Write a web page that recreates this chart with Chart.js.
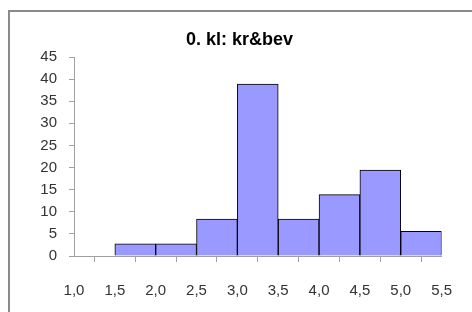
<!DOCTYPE html>
<html>
<head>
<meta charset="utf-8">
<script src="https://cdn.jsdelivr.net/npm/chart.js@4"></script>
<style>
html,body{margin:0;padding:0;background:#fff;}
#wrap{position:relative;width:472px;height:312px;overflow:hidden;}
#frame{position:absolute;left:8px;top:10px;width:500px;height:340px;border-left:2px solid #8a8a8a;border-top:2px solid #8a8a8a;box-sizing:border-box;pointer-events:none;}
canvas{position:absolute;left:0;top:0;}
</style>
</head>
<body>
<div id="wrap">
<canvas id="c" width="472" height="312"></canvas>
<div id="frame"></div>
</div>
<script>
const title = "0. kl: kr&bev";
const binCenters = [1.25, 1.75, 2.25, 2.75, 3.25, 3.75, 4.25, 4.75, 5.25];
const percentages = [0, 2.78, 2.78, 8.33, 38.89, 8.33, 13.89, 19.44, 5.56];
const xTickMin = 1.0, xTickMax = 5.5, xTickStep = 0.5;
const yTickMin = 0, yTickMax = 45, yTickStep = 5;

const points = binCenters.map((x, i) => ({x: x, y: percentages[i] === 0 ? null : percentages[i]}));
const FONT = 'Liberation Sans, Arial, sans-serif';

new Chart(document.getElementById('c'), {
  type: 'bar',
  data: {
    datasets: [{
      data: points,
      backgroundColor: '#9999ff',
      borderColor: '#000000',
      borderWidth: 1,
      barPercentage: 1.0,
      categoryPercentage: 1.0
    }]
  },
  options: {
    responsive: false,
    animation: false,
    devicePixelRatio: 1,
    layout: {padding: {top: 0, right: 30, left: 37, bottom: 0}},
    plugins: {
      legend: {display: false},
      tooltip: {enabled: false},
      title: {
        display: true,
        text: title,
        color: '#000',
        font: {family: FONT, size: 18, weight: 'bold'},
        padding: {top: 29, bottom: 6.4}
      }
    },
    scales: {
      x: {
        type: 'linear',
        min: xTickMin, max: xTickMax,
        offset: false,
        ticks: {
          stepSize: xTickStep,
          color: '#333',
          font: {family: FONT, size: 15},
          padding: 20,
          maxRotation: 0,
          autoSkip: false,
          callback: v => v.toFixed(1).replace('.', ',')
        },
        grid: {display: true, drawOnChartArea: false, drawTicks: true, tickLength: 6, color: '#a0a0a0'},
        border: {display: true, color: '#a0a0a0'},
        afterFit: s => { s.height = 56; }
      },
      y: {
        min: yTickMin, max: yTickMax,
        ticks: {
          stepSize: yTickStep,
          color: '#333',
          font: {family: FONT, size: 15},
          padding: 12
        },
        grid: {display: true, drawOnChartArea: false, drawTicks: true, tickLength: 5, color: '#a0a0a0'},
        border: {display: true, color: '#a0a0a0'},
        afterFit: s => { s.width = 37; }
      }
    }
  }
});
</script>
</body>
</html>
